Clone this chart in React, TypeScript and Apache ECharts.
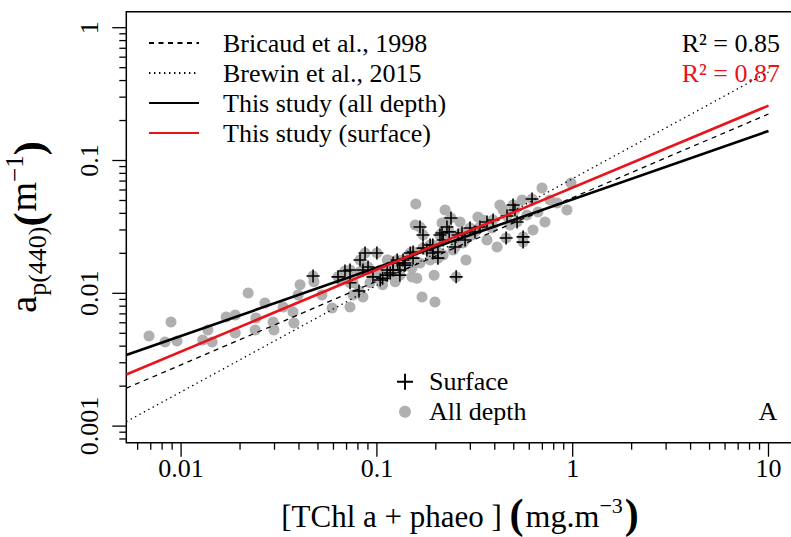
import React, { useEffect, useRef } from "react";
import * as echarts from "echarts";

const FONT = '"Liberation Serif", "Times New Roman", serif';

// axis extents (R-style 4% padding)
const X_MIN = 0.00525;
const X_MAX = 13.45;
const Y_MIN = 0.00075;
const Y_MAX = 1.32;

// ticks
const xMajorTicks = [0.01, 0.1, 1, 10];
const xMinorTicks = [
  0.006, 0.007, 0.008, 0.009,
  0.02, 0.03, 0.04, 0.05, 0.06, 0.07, 0.08, 0.09,
  0.2, 0.3, 0.4, 0.5, 0.6, 0.7, 0.8, 0.9,
  2, 3, 4, 5, 6, 7, 8, 9,
];
const yMajorTicks = [0.001, 0.01, 0.1, 1];
const yMinorTicks = [
  0.0008, 0.0009,
  0.002, 0.003, 0.004, 0.005, 0.006, 0.007, 0.008, 0.009,
  0.02, 0.03, 0.04, 0.05, 0.06, 0.07, 0.08, 0.09,
  0.2, 0.3, 0.4, 0.5, 0.6, 0.7, 0.8, 0.9,
];

// All depth samples (grey dots)
const allDepthChl = [
  0.00686, 0.00828, 0.00888, 0.00953, 0.0129, 0.0137, 0.0144, 0.017, 0.0189, 0.0189,
  0.022, 0.0241, 0.0239, 0.0295, 0.0298, 0.0332, 0.0373, 0.0377, 0.0396, 0.0524,
  0.059, 0.0729, 0.0755, 0.0849, 0.0755, 0.113, 0.107, 0.158, 0.157, 0.151,
  0.16, 0.17, 0.198, 0.196, 0.223, 0.226, 0.266, 0.328, 0.425, 0.507,
  0.697, 0.98, 0.935, 0.832, 0.627, 0.411, 0.285, 0.215, 0.348, 0.441,
  0.584, 0.365, 0.275, 0.306, 0.245, 0.218, 0.187, 0.166, 0.151, 0.131,
  0.114, 0.104, 0.0477, 0.0648, 0.0922, 0.082, 0.124, 0.766, 0.665, 0.551,
  0.387, 0.478, 0.722, 0.0405, 0.0268,
];
const allDepthAp = [
  0.00477, 0.0043, 0.00608, 0.00437, 0.00445, 0.00529, 0.0043, 0.00663, 0.00686, 0.00502,
  0.01005, 0.00652, 0.00529, 0.00608, 0.00529, 0.00788, 0.00723, 0.00597, 0.00971, 0.00971,
  0.00775, 0.00788, 0.00971, 0.00938, 0.012, 0.0178, 0.0116, 0.0471, 0.0327, 0.0133,
  0.013, 0.00938, 0.0086, 0.0137, 0.0424, 0.0344, 0.0344, 0.0375, 0.0462, 0.0447,
  0.0621, 0.0677, 0.0424, 0.0479, 0.03, 0.0223, 0.0178, 0.0338, 0.0357, 0.0424,
  0.0389, 0.0252, 0.0239, 0.0275, 0.0212, 0.0194, 0.0178, 0.0169, 0.0155, 0.015,
  0.0178, 0.015, 0.0122, 0.0126, 0.012, 0.0145, 0.0122, 0.0504, 0.041, 0.0504,
  0.031, 0.0327, 0.0344, 0.0116, 0.00845,
];

// Surface samples (crosses)
const surfaceChl = [
  0.0472, 0.0633, 0.0729, 0.0729, 0.082, 0.087, 0.1, 0.0849, 0.0901, 0.081,
  0.0955, 0.104, 0.113, 0.121, 0.127, 0.131, 0.139, 0.148, 0.153, 0.166,
  0.172, 0.18, 0.193, 0.205, 0.215, 0.228, 0.193, 0.62, 0.496, 0.507,
  0.462, 0.52, 0.392, 0.365, 0.336, 0.317, 0.457, 0.558, 0.558, 0.239,
  0.234, 0.21, 0.218, 0.26, 0.251, 0.282, 0.172, 0.187, 0.205, 0.153,
  0.136, 0.139, 0.128, 0.121, 0.113, 0.117, 0.107, 0.131, 0.254, 0.299,
  0.272, 0.0687,
];
const surfaceAp = [
  0.0135, 0.0133, 0.015, 0.012, 0.0178, 0.0201, 0.0201, 0.015, 0.0158, 0.0104,
  0.0133, 0.0126, 0.0137, 0.0169, 0.0178, 0.015, 0.0169, 0.0201, 0.0184, 0.0316,
  0.0275, 0.0212, 0.0231, 0.0184, 0.0285, 0.0316, 0.0201, 0.0513, 0.0462, 0.0424,
  0.0382, 0.0344, 0.0357, 0.0344, 0.0316, 0.029, 0.0261, 0.0266, 0.0243, 0.0369,
  0.029, 0.0275, 0.0252, 0.0275, 0.0223, 0.0252, 0.0219, 0.0231, 0.0205, 0.0205,
  0.0178, 0.0163, 0.0169, 0.015, 0.015, 0.0142, 0.013, 0.0137, 0.0133, 0.031,
  0.0285, 0.0147,
];

// fitted relationships (end points)
const fitChl = [0.00525, 10];
const bricaudAp = [0.00193, 0.224];
const brewinAp = [0.00108, 0.464];
const allDepthFitAp = [0.00343, 0.167];
const surfaceFitAp = [0.00245, 0.259];

const PLUS = "path://M8.8,0H11.2V8.8H20V11.2H11.2V20H8.8V11.2H0V8.8H8.8Z";

type Piece = { t: string; s: number; dy?: number; b?: boolean; c?: string; gap?: number };

function measure(t: string, s: number, b?: boolean) {
  const cv = document.createElement("canvas");
  const ctx = cv.getContext("2d")!;
  ctx.font = `${b ? "bold " : ""}${s}px "Liberation Serif"`;
  return ctx.measureText(t).width;
}

function run(pieces: Piece[]) {
  const widths = pieces.map((p) => measure(p.t, p.s, p.b) + (p.gap || 0));
  const total = widths.reduce((a, b) => a + b, 0);
  let cur = -total / 2;
  return pieces.map((p, i) => {
    const el = {
      type: "text",
      x: cur,
      y: (p.dy || 0) - 0.34 * p.s,
      style: {
        text: p.t,
        fontSize: p.s,
        fontFamily: FONT,
        fontWeight: p.b ? "bold" : "normal",
        fill: p.c || "#000",
        align: "left",
        verticalAlign: "middle",
      },
    };
    cur += widths[i];
    return el;
  });
}

const pairs = (xs: number[], ys: number[]) => xs.map((x, i) => [x, ys[i]]);

export default function App() {
  const ref = useRef<HTMLDivElement>(null);
  useEffect(() => {
    const chart = echarts.init(ref.current!, null, { renderer: "svg" });

    const xTickData = [
      ...xMajorTicks.map((v) => [v, Y_MIN, 14]),
      ...xMinorTicks.map((v) => [v, Y_MIN, 7]),
    ];
    const yTickData = [
      ...yMajorTicks.map((v) => [X_MIN, v, 14]),
      ...yMinorTicks.map((v) => [X_MIN, v, 7]),
    ];

    const lineSeries = (name: string, ys: number[], color: string, width: number, type: any) => ({
      name,
      type: "line",
      data: pairs(fitChl, ys),
      symbol: "none",
      clip: true,
      lineStyle: { color, width, type },
      itemStyle: { color },
      z: 5,
    });

    const yTitle = run([
      { t: "a", s: 38 },
      { t: "p(440)", s: 26, dy: 10 },
      { t: "(", s: 42, dy: 7, b: true, gap: 1 },
      { t: "m", s: 38 },
      { t: "\u22121", s: 25, dy: -13 },
      { t: ")", s: 42, dy: 7, b: true },
    ]);
    const xTitle = run([
      { t: "[TChl a + phaeo ] ", s: 31 },
      { t: "(", s: 42, dy: 1, b: true, gap: 2 },
      { t: "mg.m", s: 32 },
      { t: "\u22123", s: 22, dy: -14, gap: 2 },
      { t: ")", s: 42, dy: 1, b: true },
    ]);

    const option: any = {
      animation: false,
      backgroundColor: "#fff",
      textStyle: { fontFamily: FONT },
      grid: {
        left: 126.3,
        top: 11.7,
        width: 667.4,
        height: 431,
        show: true,
        borderColor: "#000",
        borderWidth: 1.5,
        backgroundColor: "transparent",
        containLabel: false,
        outerBoundsMode: "none",
      },
      xAxis: {
        type: "log",
        logBase: 10,
        min: X_MIN,
        max: X_MAX,
        axisLine: { show: false },
        axisTick: { show: false },
        splitLine: { show: false },
        minorTick: { show: false },
        axisLabel: {
          show: true,
          showMinLabel: false,
          showMaxLabel: false,
          fontSize: 26,
          fontFamily: FONT,
          color: "#000",
          margin: 13,
          formatter: (v: number) => String(Number(v.toPrecision(6))),
        },
      },
      yAxis: {
        type: "log",
        logBase: 10,
        min: Y_MIN,
        max: Y_MAX,
        axisLine: { show: false },
        axisTick: { show: false },
        splitLine: { show: false },
        minorTick: { show: false },
        axisLabel: {
          show: true,
          showMinLabel: false,
          showMaxLabel: false,
          rotate: 90,
          fontSize: 26,
          fontFamily: FONT,
          color: "#000",
          margin: 24,
          formatter: (v: number) => String(Number(v.toPrecision(6))),
        },
      },
      legend: [
        {
          orient: "vertical",
          left: 148,
          top: 28,
          padding: 0,
          itemWidth: 50,
          itemHeight: 14,
          itemGap: 0,
          selectedMode: false,
          itemStyle: { opacity: 0 },
          textStyle: {
            fontSize: 26,
            fontFamily: FONT,
            color: "#000",
            lineHeight: 30,
            padding: [0, 0, 0, 19],
          },
          data: [
            "Bricaud et al., 1998",
            "Brewin et al., 2015",
            "This study (all depth)",
            "This study (surface)",
          ],
        },
        {
          orient: "vertical",
          left: 397,
          top: 366.7,
          padding: 0,
          itemWidth: 16,
          itemHeight: 16,
          selectedMode: false,
          textStyle: { fontSize: 26, fontFamily: FONT, color: "#000", lineHeight: 30, padding: [0, 0, 0, 11] },
          data: ["Surface"],
        },
        {
          orient: "vertical",
          left: 399,
          top: 396.7,
          padding: 0,
          itemWidth: 12,
          itemHeight: 12,
          selectedMode: false,
          textStyle: { fontSize: 26, fontFamily: FONT, color: "#000", lineHeight: 30, padding: [0, 0, 0, 13] },
          data: ["All depth"],
        },
      ],
      graphic: [
        { type: "group", x: 36, y: 227, rotation: Math.PI / 2, children: yTitle },
        { type: "group", x: 460, y: 527, children: xTitle },
        {
          type: "text",
          x: 780,
          y: 43.3,
          style: { text: "R\u00b2 = 0.85", fontSize: 26, fontFamily: FONT, fill: "#000", align: "right", verticalAlign: "middle" },
        },
        {
          type: "text",
          x: 780,
          y: 73.3,
          style: { text: "R\u00b2 = 0.87", fontSize: 26, fontFamily: FONT, fill: "#e8141b", align: "right", verticalAlign: "middle" },
        },
        {
          type: "text",
          x: 768,
          y: 411,
          style: { text: "A", fontSize: 26, fontFamily: FONT, fill: "#000", align: "center", verticalAlign: "middle" },
        },
      ],
      series: [
        {
          name: "All depth",
          type: "scatter",
          data: [...pairs(allDepthChl, allDepthAp), ...pairs(surfaceChl, surfaceAp)],
          symbol: "circle",
          symbolSize: 11,
          itemStyle: { color: "#b0b0b0", opacity: 1 },
          z: 2,
        },
        {
          name: "Surface",
          type: "scatter",
          data: pairs(surfaceChl, surfaceAp),
          symbol: PLUS,
          symbolSize: 13,
          itemStyle: { color: "#000", opacity: 1 },
          z: 3,
        },
        lineSeries("Brewin et al., 2015", brewinAp, "#000", 1.3, [1.4, 3.6]),
        lineSeries("Bricaud et al., 1998", bricaudAp, "#000", 1.3, [5, 4.5]),
        lineSeries("This study (all depth)", allDepthFitAp, "#000", 2.6, "solid"),
        lineSeries("This study (surface)", surfaceFitAp, "#e8141b", 2.6, "solid"),
        {
          type: "custom",
          coordinateSystem: "cartesian2d",
          silent: true,
          clip: false,
          data: xTickData,
          encode: { x: 0, y: 1 },
          renderItem: (params: any, api: any) => {
            const p = api.coord([api.value(0), api.value(1)]);
            return {
              type: "line",
              shape: { x1: p[0], y1: p[1], x2: p[0], y2: p[1] + api.value(2) },
              style: { stroke: "#000", lineWidth: 1.3 },
            };
          },
          z: 6,
        },
        {
          type: "custom",
          coordinateSystem: "cartesian2d",
          silent: true,
          clip: false,
          data: yTickData,
          encode: { x: 0, y: 1 },
          renderItem: (params: any, api: any) => {
            const p = api.coord([api.value(0), api.value(1)]);
            return {
              type: "line",
              shape: { x1: p[0], y1: p[1], x2: p[0] - api.value(2), y2: p[1] },
              style: { stroke: "#000", lineWidth: 1.3 },
            };
          },
          z: 6,
        },
      ],
    };

    chart.setOption(option);
    return () => chart.dispose();
  }, []);

  return (
    <div
      ref={ref}
      style={{ position: "fixed", left: 0, top: 0, width: 791, height: 537, background: "#fff" }}
    />
  );
}
